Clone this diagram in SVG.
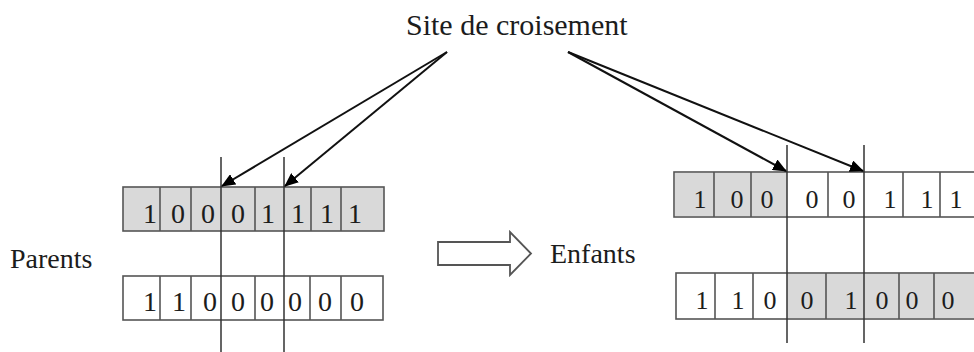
<svg xmlns="http://www.w3.org/2000/svg" width="974" height="352" viewBox="0 0 974 352">
<defs>
<style>
.t{font-family:"Liberation Serif","Times New Roman",serif;fill:#1c1c1c}
.lbl{font-size:28px}
.ttl{font-size:30px}
.d{font-size:28px;text-anchor:middle}
.d2{font-size:26px;text-anchor:middle}
.c{stroke:#555;stroke-width:1.6;fill:#fff}
.g{fill:#d9d9d9}
.sep{stroke:#555;stroke-width:1.6}
.cut{stroke:#333;stroke-width:1.5}
.arr{stroke:#111;stroke-width:2;fill:none;marker-end:url(#ah)}
</style>
<marker id="ah" markerWidth="14" markerHeight="12" refX="13" refY="6" orient="auto" markerUnits="userSpaceOnUse">
<path d="M0,0 L14,6 L0,12 Z" fill="#000"/>
</marker>
</defs>
<rect width="974" height="352" fill="#fff"/>

<g id="title"><text class="t ttl" x="406" y="35">Site de croisement</text></g>
<g id="label-parents"><text class="t lbl" x="10" y="268">Parents</text></g>
<g id="label-enfants"><text class="t lbl" x="550" y="263">Enfants</text></g>

<g id="big-arrow">
<path d="M438,242 H510 V232 L531,253.5 L510,275 V265 H438 Z" fill="#fff" stroke="#555" stroke-width="1.8" stroke-linejoin="miter"/>
</g>

<g id="parent1">
<rect class="c g" x="123" y="187" width="261" height="44"/>
<path class="sep" d="M160,187V231M191,187V231M255,187V231M311,187V231M341,187V231"/>
<text class="t d" x="150" y="223">1</text>
<text class="t d" x="178" y="223">0</text>
<text class="t d" x="208" y="223">0</text>
<text class="t d" x="238" y="223">0</text>
<text class="t d" x="268" y="223">1</text>
<text class="t d" x="298" y="223">1</text>
<text class="t d" x="327" y="223">1</text>
<text class="t d" x="355" y="223">1</text>
</g>

<g id="parent2">
<rect class="c" x="123" y="276" width="260" height="44"/>
<path class="sep" d="M160,276V320M191,276V320M255,276V320M310,276V320M341,276V320"/>
<text class="t d" x="150" y="311">1</text>
<text class="t d" x="179" y="311">1</text>
<text class="t d" x="210" y="311">0</text>
<text class="t d" x="238" y="311">0</text>
<text class="t d" x="267" y="311">0</text>
<text class="t d" x="295" y="311">0</text>
<text class="t d" x="325" y="311">0</text>
<text class="t d" x="357" y="311">0</text>
</g>

<g id="child1">
<rect class="c" x="674" y="172" width="320" height="45"/>
<rect class="g" x="675" y="173" width="112" height="43"/>
<path class="sep" d="M714,172V217M751,172V217M828,172V217M903,172V217M940,172V217"/>
<text class="t d2" x="700" y="208">1</text>
<text class="t d2" x="737" y="208">0</text>
<text class="t d2" x="767" y="208">0</text>
<text class="t d2" x="812" y="208">0</text>
<text class="t d2" x="849" y="208">0</text>
<text class="t d2" x="890" y="208">1</text>
<text class="t d2" x="927" y="208">1</text>
<text class="t d2" x="956" y="208">1</text>
</g>

<g id="child2">
<rect class="c" x="676" y="273" width="320" height="46"/>
<rect class="g" x="787" y="274" width="190" height="44"/>
<path class="sep" d="M715,273V319M753,273V319M826,273V319M899,273V319M934,273V319"/>
<text class="t d2" x="702" y="309">1</text>
<text class="t d2" x="738" y="309">1</text>
<text class="t d2" x="770" y="309">0</text>
<text class="t d2" x="807" y="309">0</text>
<text class="t d2" x="851" y="309">1</text>
<text class="t d2" x="882" y="309">0</text>
<text class="t d2" x="912" y="309">0</text>
<text class="t d2" x="948" y="309">0</text>
</g>

<g id="connectors">
<path class="cut" d="M221,157V352M284,157V352M787,145V343M864,145V343"/>
<path class="arr" d="M447,52L222,186"/>
<path class="arr" d="M447,52L285,186"/>
<path class="arr" d="M568,52L786,171"/>
<path class="arr" d="M568,52L863,171"/>
</g>
</svg>
